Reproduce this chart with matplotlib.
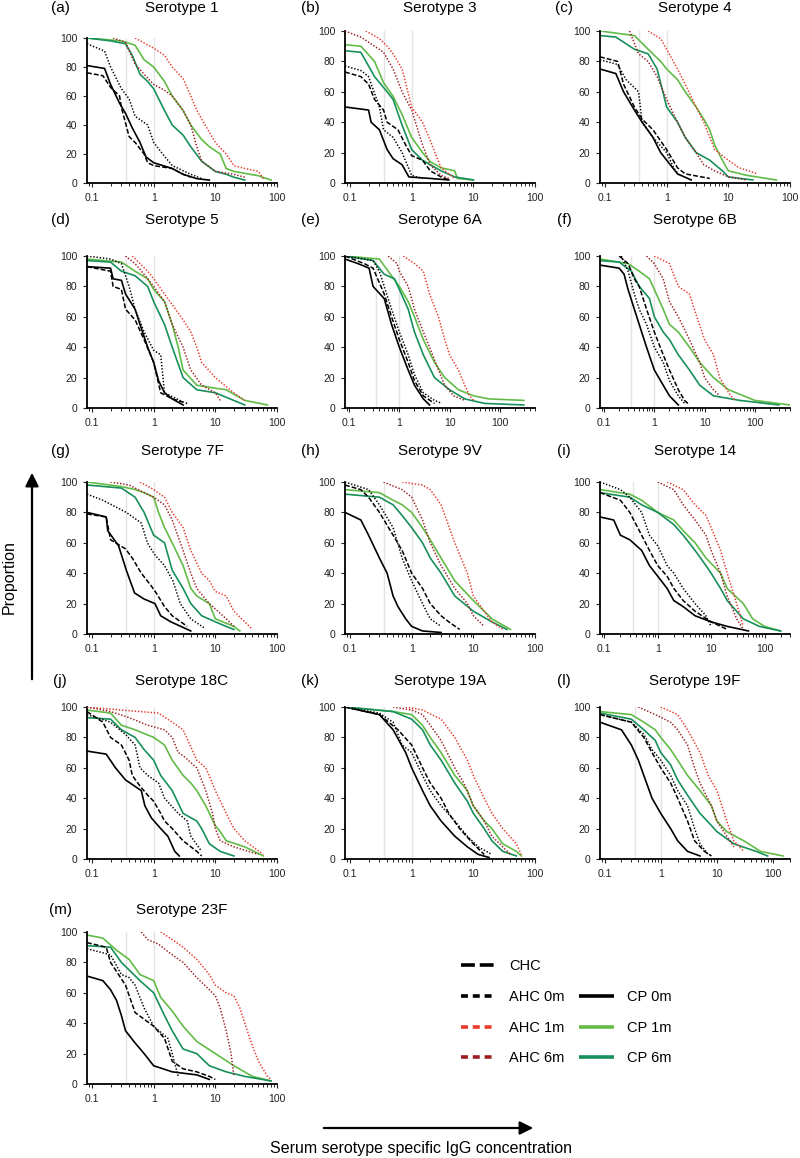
import numpy as np
import matplotlib.pyplot as plt
from matplotlib.lines import Line2D
from matplotlib.patches import FancyArrowPatch

plt.rcParams['font.family'] = ['Liberation Sans', 'DejaVu Sans']
plt.rcParams['lines.scale_dashes'] = False

W, H = 800, 1158

groups = ["CHC", "AHC 0m", "AHC 1m", "AHC 6m", "CP 0m", "CP 1m", "CP 6m"]
colors = {"CHC": "black", "AHC 0m": "black", "AHC 1m": "#e8392b", "AHC 6m": "#9b1d20",
          "CP 0m": "black", "CP 1m": "#62bb47", "CP 6m": "#17905a"}
plot_dash = {"CHC": (3.5, 1.5), "AHC 0m": (1.0, 1.3), "AHC 1m": (1.0, 1.3), "AHC 6m": (1.0, 1.3),
             "CP 0m": None, "CP 1m": None, "CP 6m": None}
legend_dash = {"CHC": (10, 3.5), "AHC 0m": (5, 3.5), "AHC 1m": (5, 3.5), "AHC 6m": (5, 3.5),
               "CP 0m": None, "CP 1m": None, "CP 6m": None}

# reverse cumulative curves: (concentration, proportion %)
sero_1 = {
    "CP 0m": ([0.083, 0.16, 0.2, 0.28, 0.35, 0.45, 0.6, 0.75, 1, 2, 3, 5, 8],
              [81, 79, 68, 55, 48, 38, 28, 18, 14, 10, 6, 3, 2]),
    "CHC": ([0.083, 0.15, 0.2, 0.28, 0.3, 0.4, 0.5, 0.7, 0.8, 1, 2, 3, 4],
            [76, 74, 66, 60, 52, 32, 28, 20, 14, 12, 10, 6, 4]),
    "AHC 0m": ([0.083, 0.16, 0.2, 0.3, 0.4, 0.5, 0.8, 1, 1.4, 2, 4, 6],
               [96, 91, 80, 65, 58, 46, 40, 28, 20, 12, 6, 3]),
    "AHC 6m": ([0.22, 0.35, 0.5, 0.7, 1, 1.5, 2, 3, 4, 5, 6, 10, 20, 30],
               [100, 97, 82, 75, 68, 64, 60, 50, 40, 25, 15, 8, 6, 4]),
    "AHC 1m": ([0.5, 1, 1.5, 2, 3, 4, 5, 8, 10, 15, 20, 30, 50, 60],
               [100, 93, 88, 80, 72, 60, 50, 35, 28, 20, 12, 10, 8, 3]),
    "CP 1m": ([0.083, 0.3, 0.5, 0.7, 1, 1.5, 2, 3, 4, 6, 8, 12, 15, 20, 50, 80],
              [100, 98, 95, 85, 80, 70, 60, 50, 40, 30, 25, 20, 10, 8, 5, 2]),
    "CP 6m": ([0.083, 0.2, 0.35, 0.45, 0.6, 0.8, 1, 1.5, 2, 3, 4, 6, 10, 15, 20, 30],
              [100, 98, 96, 88, 75, 70, 65, 50, 40, 33, 25, 15, 8, 6, 4, 2]),
}
sero_3 = {
    "CP 0m": ([0.083, 0.2, 0.22, 0.3, 0.4, 0.5, 0.7, 0.9, 2, 4],
              [50, 48, 40, 35, 22, 16, 12, 4, 3, 2]),
    "CHC": ([0.083, 0.15, 0.2, 0.25, 0.35, 0.4, 0.6, 0.8, 1, 1.5, 2, 3, 4],
            [73, 70, 65, 55, 48, 40, 35, 25, 18, 15, 8, 4, 2]),
    "AHC 0m": ([0.083, 0.15, 0.2, 0.3, 0.35, 0.5, 0.7, 1, 1.5],
               [77, 74, 70, 50, 35, 30, 20, 5, 3]),
    "AHC 6m": ([0.083, 0.15, 0.25, 0.35, 0.5, 0.7, 1, 1.5, 2, 3, 4],
               [100, 96, 90, 86, 75, 60, 48, 25, 12, 5, 3]),
    "AHC 1m": ([0.18, 0.3, 0.4, 0.5, 0.7, 1, 1.5, 2, 2.5, 3, 4, 5],
               [100, 95, 90, 85, 75, 50, 40, 28, 18, 10, 6, 3]),
    "CP 1m": ([0.083, 0.15, 0.25, 0.35, 0.5, 0.7, 1, 1.5, 2, 3, 5, 5.5, 10],
              [91, 90, 80, 66, 57, 45, 30, 20, 14, 10, 8, 3, 2]),
    "CP 6m": ([0.083, 0.15, 0.25, 0.4, 0.5, 0.7, 1, 1.5, 2, 3, 5, 10],
              [87, 86, 70, 60, 55, 38, 22, 15, 12, 8, 4, 2]),
}
sero_4 = {
    "CP 0m": ([0.083, 0.15, 0.2, 0.3, 0.4, 0.6, 0.8, 1, 1.5, 2.5],
              [75, 72, 60, 48, 40, 30, 20, 15, 6, 2]),
    "CHC": ([0.083, 0.16, 0.2, 0.3, 0.4, 0.6, 1, 1.5, 2, 5],
            [83, 80, 65, 50, 42, 35, 22, 10, 6, 3]),
    "AHC 0m": ([0.083, 0.16, 0.22, 0.35, 0.4, 0.6, 1, 1.3, 1.6],
               [81, 78, 68, 60, 40, 30, 20, 10, 5]),
    "AHC 6m": ([0.25, 0.35, 0.5, 0.7, 1, 1.5, 2, 3, 4, 6, 10, 20],
               [100, 85, 80, 70, 55, 40, 30, 20, 12, 8, 4, 2]),
    "AHC 1m": ([0.5, 0.8, 1, 1.5, 2, 3, 4, 5, 6, 10, 15, 30],
               [100, 95, 88, 75, 65, 50, 40, 30, 22, 15, 10, 6]),
    "CP 1m": ([0.083, 0.3, 0.5, 0.8, 1, 1.5, 2, 3, 4, 5, 6, 8, 10, 20, 60],
              [100, 97, 88, 80, 75, 68, 60, 50, 42, 35, 25, 15, 8, 5, 2]),
    "CP 6m": ([0.083, 0.15, 0.3, 0.5, 0.7, 1, 1.5, 2, 3, 5, 8, 10, 25],
              [97, 96, 88, 85, 75, 50, 40, 30, 20, 15, 8, 4, 2]),
}
sero_5 = {
    "CP 0m": ([0.083, 0.2, 0.22, 0.3, 0.35, 0.5, 0.6, 0.8, 1, 1.2, 1.5, 2, 3],
              [93, 92, 85, 84, 75, 65, 55, 40, 30, 18, 10, 6, 2]),
    "CHC": ([0.083, 0.2, 0.22, 0.3, 0.35, 0.5, 0.7, 1, 1.3, 2, 3.5],
            [93, 90, 80, 78, 65, 58, 45, 30, 10, 6, 3]),
    "AHC 0m": ([0.083, 0.2, 0.3, 0.4, 0.5, 0.7, 1, 1.3, 1.5, 3],
               [100, 98, 95, 80, 65, 50, 38, 35, 10, 4]),
    "AHC 6m": ([0.35, 0.5, 0.8, 1, 1.5, 2, 3, 4, 6, 10, 12],
               [100, 95, 85, 80, 70, 55, 40, 25, 15, 10, 5]),
    "AHC 1m": ([0.45, 0.8, 1, 1.5, 2, 3, 4, 5, 6, 10, 20, 30],
               [100, 90, 85, 75, 68, 58, 50, 40, 30, 20, 10, 5]),
    "CP 1m": ([0.083, 0.3, 0.5, 0.8, 1, 1.5, 2, 2.5, 3, 5, 10, 15, 30, 70],
              [98, 96, 90, 85, 78, 70, 55, 40, 25, 15, 13, 12, 5, 2]),
    "CP 6m": ([0.083, 0.2, 0.3, 0.5, 0.8, 1, 1.5, 2, 3, 5, 10, 30],
              [97, 96, 90, 87, 80, 70, 55, 40, 20, 12, 10, 2]),
}
sero_6a = {
    "CP 0m": ([0.083, 0.15, 0.25, 0.3, 0.5, 0.7, 1, 1.5, 2, 3, 4],
              [98, 95, 92, 80, 72, 55, 40, 25, 15, 6, 2]),
    "CHC": ([0.083, 0.2, 0.3, 0.5, 0.7, 1, 1.5, 2, 3, 5],
            [100, 95, 92, 75, 60, 45, 30, 18, 8, 3]),
    "AHC 0m": ([0.083, 0.3, 0.4, 0.5, 0.7, 1, 1.5, 2, 3, 5, 7],
               [100, 97, 90, 80, 65, 50, 35, 22, 10, 5, 3]),
    "AHC 6m": ([0.6, 0.9, 1, 1.5, 2, 3, 4, 6, 8, 12, 20],
               [100, 95, 90, 80, 65, 50, 40, 25, 15, 8, 5]),
    "AHC 1m": ([1.2, 2, 3, 4, 6, 8, 10, 15, 20, 25, 30],
               [100, 95, 90, 75, 60, 45, 35, 25, 15, 8, 5]),
    "CP 1m": ([0.083, 0.4, 0.6, 1, 1.5, 2, 3, 5, 8, 15, 30, 60, 300],
              [100, 98, 90, 80, 70, 60, 45, 30, 20, 12, 8, 6, 5]),
    "CP 6m": ([0.083, 0.3, 0.5, 0.8, 1, 1.5, 2, 3, 5, 10, 20, 50, 300],
              [100, 97, 88, 85, 78, 65, 50, 35, 20, 12, 6, 3, 2]),
}
sero_6b = {
    "CP 0m": ([0.083, 0.2, 0.25, 0.3, 0.4, 0.5, 0.7, 1, 1.5, 2, 3],
              [94, 92, 88, 78, 65, 55, 40, 25, 15, 8, 2]),
    "CHC": ([0.2, 0.3, 0.4, 0.5, 0.7, 1, 1.5, 2, 3, 4, 5],
            [100, 95, 85, 80, 65, 50, 35, 25, 12, 5, 2]),
    "AHC 0m": ([0.22, 0.3, 0.4, 0.5, 0.7, 1, 1.5, 2, 3, 4],
               [100, 90, 75, 65, 55, 40, 30, 18, 8, 3]),
    "AHC 6m": ([0.7, 1, 1.5, 2, 3, 5, 8, 10, 15, 20],
               [100, 95, 85, 70, 60, 45, 30, 20, 12, 8]),
    "AHC 1m": ([1, 2, 3, 5, 7, 10, 15, 20, 30, 40],
               [100, 95, 80, 75, 60, 45, 35, 20, 10, 5]),
    "CP 1m": ([0.083, 0.3, 0.5, 0.8, 1, 1.5, 2, 3, 5, 8, 15, 30, 100, 500],
              [98, 95, 90, 85, 78, 65, 55, 50, 40, 30, 20, 12, 5, 2]),
    "CP 6m": ([0.083, 0.2, 0.35, 0.5, 0.8, 1, 1.5, 2, 3, 5, 8, 15, 50, 300],
              [97, 96, 90, 80, 72, 60, 50, 45, 35, 25, 15, 8, 5, 2]),
}
sero_7f = {
    "CP 0m": ([0.083, 0.17, 0.18, 0.27, 0.36, 0.49, 0.7, 1.05, 1.3, 1.9, 4],
              [80, 77, 68, 58, 42, 27, 23, 20, 12, 8, 2]),
    "CHC": ([0.083, 0.17, 0.2, 0.35, 0.45, 0.63, 0.9, 1.1, 1.5, 2, 3.5],
            [79, 77, 62, 56, 50, 40, 32, 27, 18, 12, 5]),
    "AHC 0m": ([0.083, 0.15, 0.36, 0.63, 0.79, 1.05, 1.5, 2.05, 2.7, 4, 6.6],
               [92, 88, 80, 73, 60, 52, 45, 35, 20, 10, 4]),
    "AHC 6m": ([0.2, 0.4, 0.7, 1, 1.5, 2, 3, 4, 5, 8, 15, 20],
               [100, 98, 93, 90, 85, 75, 55, 40, 30, 20, 10, 5]),
    "AHC 1m": ([0.6, 1, 1.5, 2, 3, 4, 6, 8, 10, 15, 20, 30, 40],
               [100, 95, 90, 80, 70, 55, 40, 35, 28, 25, 15, 8, 3]),
    "CP 1m": ([0.083, 0.3, 0.5, 0.7, 1, 1.2, 1.5, 2, 3, 4, 5, 8, 10, 20, 25],
              [100, 97, 95, 93, 90, 80, 70, 60, 45, 30, 25, 20, 10, 5, 2]),
    "CP 6m": ([0.083, 0.3, 0.5, 0.7, 1, 1.5, 2, 3, 4, 6, 10, 15, 20],
              [98, 96, 90, 80, 65, 60, 42, 30, 20, 12, 8, 5, 3]),
}
sero_9v = {
    "CP 0m": ([0.083, 0.15, 0.2, 0.3, 0.4, 0.5, 0.6, 0.8, 1, 1.5, 3],
              [80, 75, 65, 50, 40, 25, 18, 10, 5, 2, 1]),
    "CHC": ([0.083, 0.15, 0.2, 0.3, 0.5, 0.7, 1, 1.5, 2, 3, 4, 6],
            [98, 95, 90, 80, 65, 55, 40, 30, 20, 12, 8, 3]),
    "AHC 0m": ([0.083, 0.2, 0.3, 0.5, 0.7, 1, 1.5, 2, 3],
               [100, 95, 85, 70, 50, 35, 20, 10, 5]),
    "AHC 6m": ([0.35, 0.7, 1, 1.5, 2, 3, 5, 8, 10, 15],
               [100, 95, 90, 75, 60, 45, 30, 20, 12, 5]),
    "AHC 1m": ([0.7, 1.5, 2, 3, 5, 8, 10, 15, 20, 30],
               [100, 98, 95, 85, 60, 40, 25, 15, 8, 3]),
    "CP 1m": ([0.083, 0.3, 0.5, 0.7, 1, 1.5, 2, 3, 5, 10, 20, 40],
              [95, 93, 88, 85, 80, 70, 62, 50, 35, 22, 10, 3]),
    "CP 6m": ([0.083, 0.3, 0.5, 0.7, 1, 1.5, 2, 3, 5, 10, 20, 35],
              [92, 90, 85, 78, 70, 60, 50, 40, 25, 15, 8, 3]),
}
sero_14 = {
    "CP 0m": ([0.083, 0.15, 0.2, 0.3, 0.5, 0.7, 1, 1.5, 2, 3, 5, 10, 20, 50],
              [77, 75, 65, 62, 55, 45, 38, 30, 22, 18, 12, 8, 5, 2]),
    "CHC": ([0.083, 0.2, 0.3, 0.5, 0.7, 1, 1.5, 2, 3, 5, 10, 20],
            [93, 88, 80, 65, 55, 45, 38, 30, 22, 15, 8, 3]),
    "AHC 0m": ([0.083, 0.2, 0.3, 0.5, 0.7, 1, 1.5, 2, 3, 5, 8, 10],
               [100, 95, 90, 80, 65, 58, 45, 40, 30, 20, 12, 5]),
    "AHC 6m": ([1, 2, 3, 5, 8, 10, 15, 20, 30, 40],
               [100, 95, 85, 75, 65, 55, 40, 25, 10, 3]),
    "AHC 1m": ([1.5, 3, 5, 8, 10, 15, 20, 30, 40],
               [100, 95, 85, 78, 70, 55, 40, 20, 5]),
    "CP 1m": ([0.083, 0.3, 0.5, 1, 2, 3, 5, 8, 15, 20, 40, 60, 100, 200],
              [95, 92, 88, 80, 75, 68, 60, 50, 40, 30, 20, 10, 5, 2]),
    "CP 6m": ([0.083, 0.3, 0.5, 1, 2, 3, 5, 8, 10, 15, 20, 40, 80, 200],
              [93, 90, 85, 80, 72, 65, 55, 45, 40, 30, 22, 10, 5, 2]),
}
sero_18c = {
    "CP 0m": ([0.083, 0.17, 0.24, 0.35, 0.63, 0.72, 0.92, 1.3, 1.7, 2.2, 2.6],
              [71, 69, 60, 52, 45, 35, 27, 20, 15, 5, 2]),
    "CHC": ([0.083, 0.15, 0.2, 0.3, 0.4, 0.45, 0.6, 0.8, 1, 1.3, 1.5, 2, 3, 5, 6],
            [97, 90, 80, 75, 65, 55, 48, 42, 38, 30, 25, 20, 12, 5, 2]),
    "AHC 0m": ([0.083, 0.2, 0.35, 0.5, 0.6, 0.8, 1.2, 1.5, 2.5, 3.5, 4, 6],
               [95, 90, 82, 75, 60, 55, 50, 40, 30, 25, 15, 5]),
    "AHC 6m": ([0.083, 0.2, 0.4, 0.8, 1.5, 2, 2.5, 3, 5, 7, 9, 10, 12, 20, 50],
               [100, 97, 93, 88, 85, 80, 70, 68, 60, 45, 30, 20, 12, 8, 3]),
    "AHC 1m": ([0.083, 0.3, 0.6, 1.2, 2, 3, 5, 7, 10, 15, 20, 30, 60],
               [100, 98, 97, 96, 90, 85, 65, 60, 45, 30, 20, 12, 3]),
    "CP 1m": ([0.083, 0.2, 0.3, 0.5, 1, 1.5, 2, 3, 4, 5, 7, 10, 12, 15, 30, 60],
              [98, 96, 88, 85, 80, 75, 65, 55, 50, 45, 35, 22, 18, 12, 8, 2]),
    "CP 6m": ([0.083, 0.2, 0.3, 0.5, 0.7, 1, 1.3, 2, 3, 5, 6, 8, 12, 20],
              [93, 92, 85, 80, 72, 65, 55, 45, 30, 25, 20, 10, 5, 2]),
}
sero_19a = {
    "CP 0m": ([0.083, 0.3, 0.5, 0.8, 1, 1.5, 2, 3, 5, 8, 12, 18],
              [100, 95, 85, 70, 60, 45, 35, 25, 15, 8, 3, 1]),
    "CHC": ([0.083, 0.3, 0.6, 1, 1.5, 2, 3, 4, 6, 10, 15],
            [100, 95, 85, 75, 60, 50, 40, 30, 20, 10, 3]),
    "AHC 0m": ([0.083, 0.3, 0.5, 0.7, 1, 1.5, 2, 3, 5, 8, 12, 20],
               [100, 96, 90, 75, 70, 55, 45, 35, 25, 15, 8, 3]),
    "AHC 6m": ([0.5, 1, 1.5, 2, 3, 5, 7, 10, 15, 20, 30, 40],
               [100, 98, 95, 88, 78, 60, 50, 35, 25, 15, 8, 3]),
    "AHC 1m": ([0.8, 1.5, 3, 5, 8, 10, 15, 20, 30, 50, 60],
               [100, 98, 92, 80, 65, 55, 40, 30, 20, 10, 3]),
    "CP 1m": ([0.083, 0.5, 1, 1.5, 2, 3, 5, 8, 10, 15, 20, 30, 50, 60],
              [100, 97, 95, 88, 80, 70, 55, 45, 35, 25, 20, 10, 5, 2]),
    "CP 6m": ([0.083, 0.5, 1, 1.5, 2, 3, 5, 8, 10, 15, 20, 30, 50],
              [100, 97, 92, 85, 75, 65, 50, 38, 30, 20, 12, 5, 2]),
}
sero_19f = {
    "CP 0m": ([0.083, 0.2, 0.3, 0.4, 0.5, 0.7, 1, 1.5, 2, 3, 5],
              [90, 85, 75, 65, 55, 40, 30, 20, 12, 5, 2]),
    "CHC": ([0.083, 0.3, 0.5, 0.7, 1, 1.5, 2, 3, 4, 6, 8],
            [95, 90, 80, 70, 60, 50, 40, 25, 12, 5, 2]),
    "AHC 0m": ([0.083, 0.3, 0.5, 0.7, 1, 1.5, 2, 3, 4, 5, 7],
               [95, 90, 82, 72, 65, 55, 45, 35, 20, 10, 3]),
    "AHC 6m": ([0.4, 0.8, 1.5, 2, 3, 4, 5, 8, 10, 15, 20],
               [100, 95, 90, 85, 75, 60, 50, 35, 25, 15, 8]),
    "AHC 1m": ([1, 2, 3, 5, 7, 10, 15, 20, 30],
               [100, 95, 85, 70, 55, 45, 25, 12, 5]),
    "CP 1m": ([0.083, 0.3, 0.5, 0.8, 1, 1.5, 2, 3, 5, 8, 10, 15, 30, 60, 150],
              [97, 95, 90, 85, 80, 72, 65, 55, 45, 35, 25, 18, 12, 5, 2]),
    "CP 6m": ([0.083, 0.3, 0.5, 0.8, 1, 1.5, 2, 3, 5, 8, 10, 20, 50, 80],
              [96, 92, 85, 78, 70, 62, 52, 42, 30, 22, 18, 10, 5, 2]),
}
sero_23f = {
    "CP 0m": ([0.083, 0.15, 0.2, 0.25, 0.3, 0.35, 0.5, 0.7, 1, 2, 5, 8],
              [71, 68, 62, 55, 45, 35, 27, 20, 12, 8, 6, 3]),
    "CHC": ([0.083, 0.17, 0.2, 0.35, 0.5, 1, 1.5, 2, 3, 5, 8, 10],
            [93, 90, 80, 65, 47, 38, 30, 15, 10, 8, 5, 3]),
    "AHC 0m": ([0.083, 0.2, 0.3, 0.4, 0.5, 0.7, 1, 1.7, 2, 2.5],
               [89, 85, 72, 70, 65, 50, 38, 30, 20, 5]),
    "AHC 6m": ([0.63, 0.8, 1.2, 1.6, 2, 3, 5, 8, 10, 12, 15, 18, 20],
               [100, 95, 92, 88, 85, 80, 70, 62, 58, 50, 35, 20, 5]),
    "AHC 1m": ([1.3, 2, 3, 5, 8, 10, 15, 20, 25, 30, 40, 50, 70, 80],
               [100, 95, 90, 82, 72, 65, 60, 58, 50, 40, 25, 15, 5, 3]),
    "CP 1m": ([0.083, 0.15, 0.25, 0.4, 0.6, 1, 1.3, 2, 3, 5, 10, 20, 40, 80],
              [98, 96, 88, 82, 72, 68, 57, 48, 38, 28, 20, 12, 5, 2]),
    "CP 6m": ([0.083, 0.2, 0.3, 0.4, 0.6, 1, 1.5, 2, 3, 5, 8, 15, 30, 80],
              [91, 90, 80, 75, 68, 60, 45, 35, 23, 20, 12, 8, 5, 2]),
}

letters = ["(a)", "(b)", "(c)", "(d)", "(e)", "(f)", "(g)", "(h)", "(i)", "(j)", "(k)", "(l)", "(m)"]
titles = ["Serotype 1", "Serotype 3", "Serotype 4", "Serotype 5", "Serotype 6A", "Serotype 6B",
          "Serotype 7F", "Serotype 9V", "Serotype 14", "Serotype 18C", "Serotype 19A",
          "Serotype 19F", "Serotype 23F"]
panel_data = [sero_1, sero_3, sero_4, sero_5, sero_6a, sero_6b, sero_7f, sero_9v,
              sero_14, sero_18c, sero_19a, sero_19f, sero_23f]
x_max = [100, 100, 100, 100, 500, 500, 100, 100, 300, 100, 100, 200, 100]
x_ticks = [0.1, 1, 10, 100]
x_tick_labels = ["0.1", "1", "10", "100"]
ref_lines = [0.35, 1.0]

# layout in pixels
col_left = [87, 345, 600]
label_x = [60, 310, 564]
row_zero = [183, 408, 634, 859, 1084]
title_y = [8, 220, 451, 681, 910]
ax_w, ax_h = 190, 152

fig = plt.figure(figsize=(W / 100, H / 100), dpi=100)

for i, data in enumerate(panel_data):
    r, c = divmod(i, 3)
    h = ax_h - 7 if i == 0 else ax_h
    ax = fig.add_axes([col_left[c] / W, 1 - row_zero[r] / H, ax_w / W, h / H])
    for xv in ref_lines:
        ax.axvline(xv, color="#e3e3e3", lw=1.0, zorder=0)
    for g in groups:
        xs, ys = data[g]
        solid = plot_dash[g] is None
        line, = ax.plot(xs, ys, color=colors[g], lw=1.2 if solid else 1.1, zorder=2 if solid else 3)
        if not solid:
            line.set_dashes(plot_dash[g])
    ax.set_xscale("log")
    ax.set_xlim(0.083, x_max[i])
    ax.set_ylim(0, 100)
    ax.set_xticks(x_ticks)
    ax.set_xticklabels(x_tick_labels)
    ax.set_yticks(range(0, 101, 20))
    ax.tick_params(axis="both", labelsize=7.5, colors="#222222", length=3, width=0.8, pad=4)
    ax.tick_params(axis="x", which="minor", length=2, width=0.6)
    for s in ["top", "right"]:
        ax.spines[s].set_visible(False)
    for s in ["left", "bottom"]:
        ax.spines[s].set_linewidth(1.3)
    cx = (col_left[c] + ax_w / 2) / W
    fig.text(cx, 1 - title_y[r] / H, titles[i], ha="center", va="center", fontsize=11)
    fig.text(label_x[c] / W, 1 - title_y[r] / H, letters[i], ha="center", va="center", fontsize=11)

# legend
handles = []
for g in groups:
    h = Line2D([], [], color=colors[g], lw=2.6, solid_capstyle="butt", dash_capstyle="butt")
    if legend_dash[g] is not None:
        h.set_dashes(legend_dash[g])
    handles.append(h)
blank = Line2D([], [], color="none")
order = handles[:4] + [blank] + handles[4:]
labels = groups[:4] + [""] + groups[4:]
fig.legend(order, labels, loc="upper left", bbox_to_anchor=(448 / W, 1 - 946 / H), ncol=2,
           frameon=False, fontsize=10.5, handlelength=2.4, handletextpad=0.9,
           labelspacing=1.15, columnspacing=1.0)

# axis arrows and labels
fig.add_artist(FancyArrowPatch((32 / W, 1 - 682 / H), (32 / W, 1 - 470 / H), transform=fig.transFigure,
                               arrowstyle="-|>", mutation_scale=20, lw=1.6, color="black"))
fig.text(9 / W, 1 - 577 / H, "Proportion", rotation=90, ha="center", va="center", fontsize=11.5)
fig.add_artist(FancyArrowPatch((321 / W, 1 - 1128 / H), (536 / W, 1 - 1128 / H), transform=fig.transFigure,
                               arrowstyle="-|>", mutation_scale=20, lw=1.6, color="black"))
fig.text(421 / W, 1 - 1148 / H, "Serum serotype specific IgG concentration", ha="center", va="center",
         fontsize=11.5)

fig.savefig("out.png", dpi=100)
